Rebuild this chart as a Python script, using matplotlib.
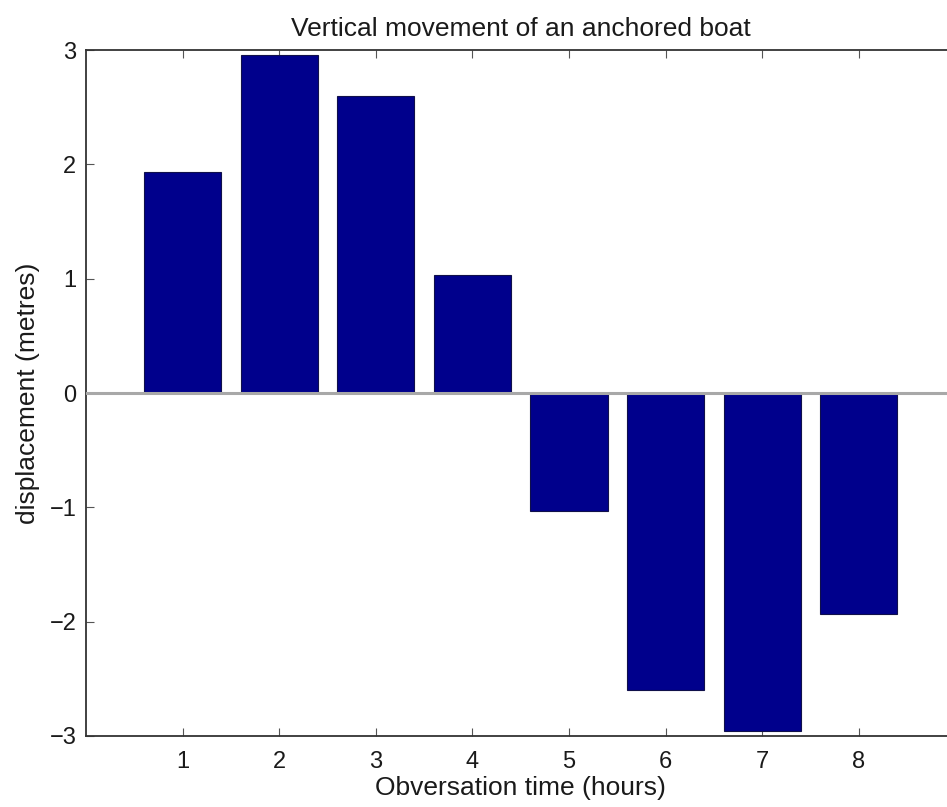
import matplotlib
matplotlib.use('Agg')
import matplotlib.pyplot as plt

# --- Data ---
hours = [1, 2, 3, 4, 5, 6, 7, 8]
displacement = [1.93, 2.96, 2.60, 1.03, -1.03, -2.60, -2.96, -1.93]
y_ticks = [-3, -2, -1, 0, 1, 2, 3]

# --- Style ---
plt.rcParams['font.family'] = ['Liberation Sans', 'DejaVu Sans']
LABEL_SIZE = 19
TICK_SIZE = 17
BAR_COLOR = '#00008C'
SPINE_COLOR = '#333333'
TEXT_COLOR = '#1a1a1a'


def plot_boat(hours, displacement):
    """Bar chart of the boat's vertical displacement per hour."""
    fig = plt.figure(figsize=(9.47, 8.07), dpi=100)
    ax = fig.add_axes([0.0908, 0.088, 0.918, 0.850])

    ax.bar(hours, displacement, width=0.8, color=BAR_COLOR,
           edgecolor='#10104a', linewidth=0.8, zorder=2)
    ax.axhline(0, color='#a8a8a8', linewidth=2.2, zorder=3)

    ax.set_xlim(0, 9)
    ax.set_ylim(-3, 3)
    ax.set_xticks(hours)
    ax.set_yticks(y_ticks)
    ax.set_yticklabels([str(v).replace('-', '\u2212') for v in y_ticks])

    ax.tick_params(axis='both', direction='in', length=6, width=0.8,
                   color='#555555', labelsize=TICK_SIZE, labelcolor=TEXT_COLOR,
                   top=True, right=True)
    ax.tick_params(axis='x', pad=11)
    ax.tick_params(axis='y', pad=7)
    for spine in ax.spines.values():
        spine.set_color(SPINE_COLOR)
        spine.set_linewidth(1.3)

    ax.set_title('Vertical movement of an anchored boat', fontsize=LABEL_SIZE,
                 color=TEXT_COLOR, pad=10)
    ax.set_xlabel('Obversation time (hours)', fontsize=LABEL_SIZE,
                  color=TEXT_COLOR, labelpad=2)
    ax.set_ylabel('displacement (metres)', fontsize=LABEL_SIZE,
                  color=TEXT_COLOR, labelpad=7)

    fig.savefig('out.png', dpi=100)


if __name__ == '__main__':
    plot_boat(hours, displacement)
